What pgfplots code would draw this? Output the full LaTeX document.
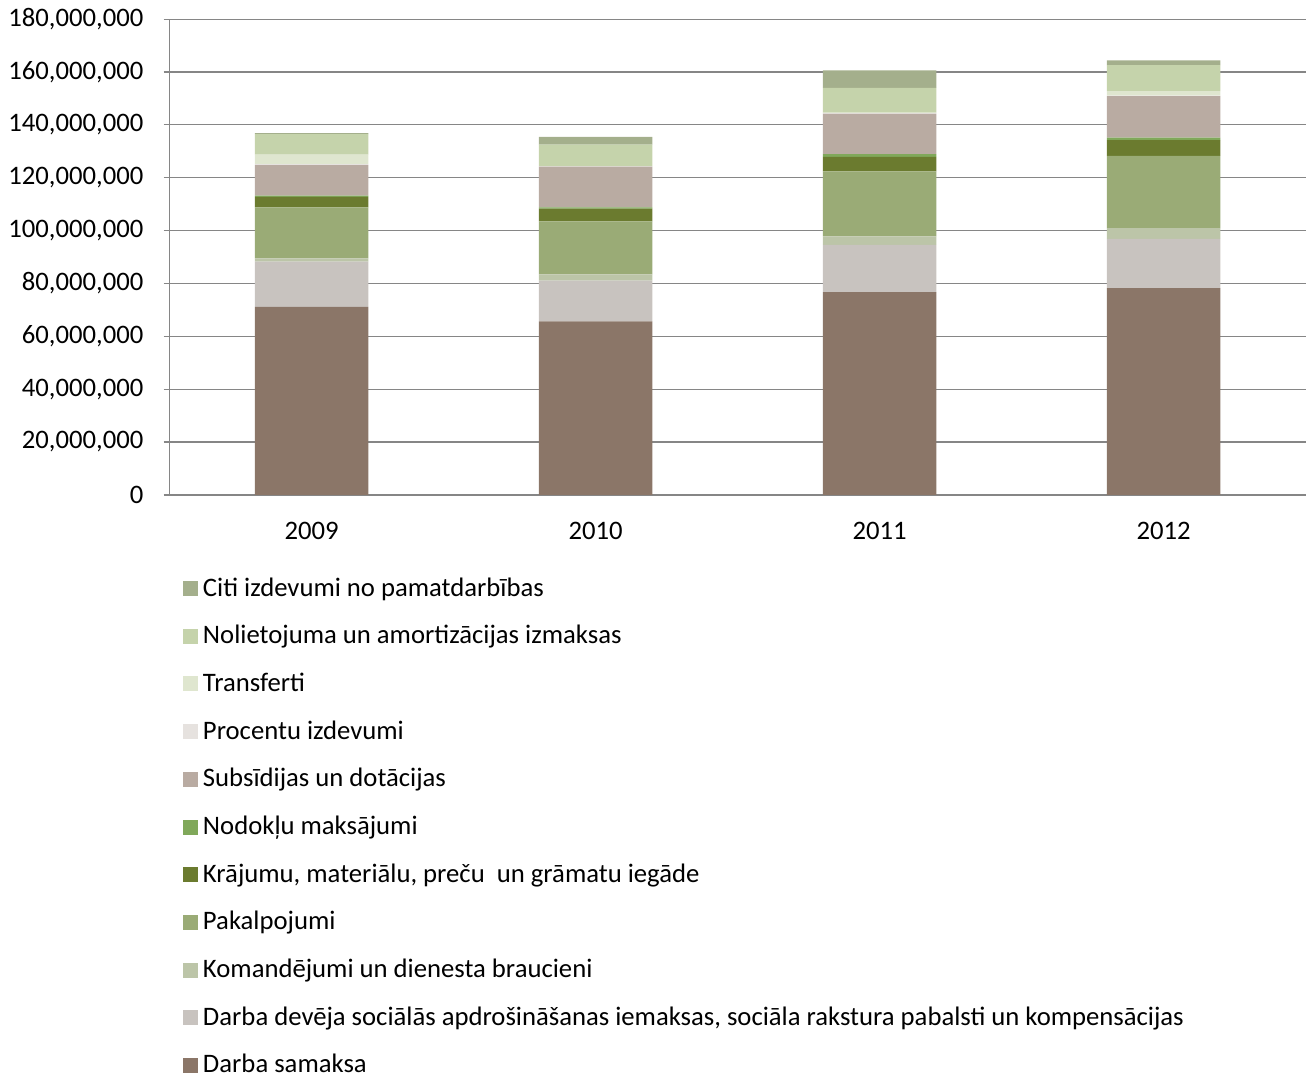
\documentclass[border=0pt]{standalone}
\usepackage{fontspec}
\setmainfont{Carlito}
\usepackage{pgfplots}
\usepackage{pgfplotstable}
\pgfplotsset{compat=1.18}

\definecolor{cSam}{HTML}{8B7668}
\definecolor{cDev}{HTML}{C8C3BF}
\definecolor{cKom}{HTML}{BCC5A8}
\definecolor{cPak}{HTML}{9AAB76}
\definecolor{cKra}{HTML}{6B7B2F}
\definecolor{cNod}{HTML}{80A85A}
\definecolor{cSub}{HTML}{B9ABA2}
\definecolor{cPro}{HTML}{E6E2DF}
\definecolor{cTra}{HTML}{DFE6CF}
\definecolor{cNol}{HTML}{C5D3AB}
\definecolor{cCit}{HTML}{A4AF8C}
\definecolor{gridgray}{HTML}{868686}

% values in euro, per year
\pgfplotstableread{
x sam dev kom pak kra nod sub pro tra nol cit
0 71100000 17200000 1200000 19300000 4000000 400000 11600000 300000 3600000 7800000 400000
1 65700000 15400000 2300000 20100000 4800000 500000 15400000 100000 100000 8100000 3000000
2 76700000 17900000 3200000 24600000 5500000 1000000 15300000 200000 200000 9400000 6600000
3 78200000 18700000 4000000 27400000 5900000 1000000 15700000 200000 1700000 9800000 1800000
}\data

\begin{document}
\begin{tikzpicture}
\begin{axis}[
    scale only axis,
    width=455.6pt, height=190.8pt,
    ybar stacked,
    bar width=0.4,
    ymin=0, ymax=180000000,
    ytick={0,20000000,...,180000000},
    xmin=-0.5, xmax=3.5,
    xtick={0,1,2,3},
    xticklabels={2009,2010,2011,2012},
    x tick style={draw=none},
    extra x ticks={-0.5,0.5,1.5,2.5,3.5},
    extra x tick labels={},
    extra x tick style={tick style={draw=gridgray, line width=0.5pt}, major tick length=3.2pt, tick align=outside},
    scaled y ticks=false,
    /pgf/number format/fixed,
    /pgf/number format/precision=0,
    /pgf/number format/1000 sep={,},
    /pgf/number format/assume math mode=true,
    ymajorgrids,
    grid style={gridgray, line width=0.5pt},
    axis x line*=bottom, axis y line*=left,
    axis line style={gridgray, line width=0.5pt},
    y tick style={gridgray, line width=0.5pt},
    tick align=outside,
    major tick length=2.4pt,
    ticklabel style={font=\fontsize{10.7}{12}\selectfont},
    yticklabel style={xshift=-4.6pt},
    xticklabel style={yshift=-5.2pt},
    reverse legend,
    legend cell align=left,
    legend style={draw=none, fill=none, at={(0.0114,-0.162)}, anchor=north west,
        font=\fontsize{10.7}{12}\selectfont, row sep=6.2pt, inner sep=0pt},
    legend image code/.code={\fill[#1] (0pt,-3pt) rectangle (6pt,3pt);},
]
\addplot[fill=cSam, draw=none] table[x=x, y=sam] {\data};
\addlegendentry{Darba samaksa}
\addplot[fill=cDev, draw=none] table[x=x, y=dev] {\data};
\addlegendentry{Darba devēja sociālās apdrošināšanas iemaksas, sociāla rakstura pabalsti un kompensācijas}
\addplot[fill=cKom, draw=none] table[x=x, y=kom] {\data};
\addlegendentry{Komandējumi un dienesta braucieni}
\addplot[fill=cPak, draw=none] table[x=x, y=pak] {\data};
\addlegendentry{Pakalpojumi}
\addplot[fill=cKra, draw=none] table[x=x, y=kra] {\data};
\addlegendentry{Krājumu, materiālu, preču~ un grāmatu iegāde}
\addplot[fill=cNod, draw=none] table[x=x, y=nod] {\data};
\addlegendentry{Nodokļu maksājumi}
\addplot[fill=cSub, draw=none] table[x=x, y=sub] {\data};
\addlegendentry{Subsīdijas un dotācijas}
\addplot[fill=cPro, draw=none] table[x=x, y=pro] {\data};
\addlegendentry{Procentu izdevumi}
\addplot[fill=cTra, draw=none] table[x=x, y=tra] {\data};
\addlegendentry{Transferti}
\addplot[fill=cNol, draw=none] table[x=x, y=nol] {\data};
\addlegendentry{Nolietojuma un amortizācijas izmaksas}
\addplot[fill=cCit, draw=none] table[x=x, y=cit] {\data};
\addlegendentry{Citi izdevumi no pamatdarbības}
\end{axis}
\end{tikzpicture}
\end{document}
